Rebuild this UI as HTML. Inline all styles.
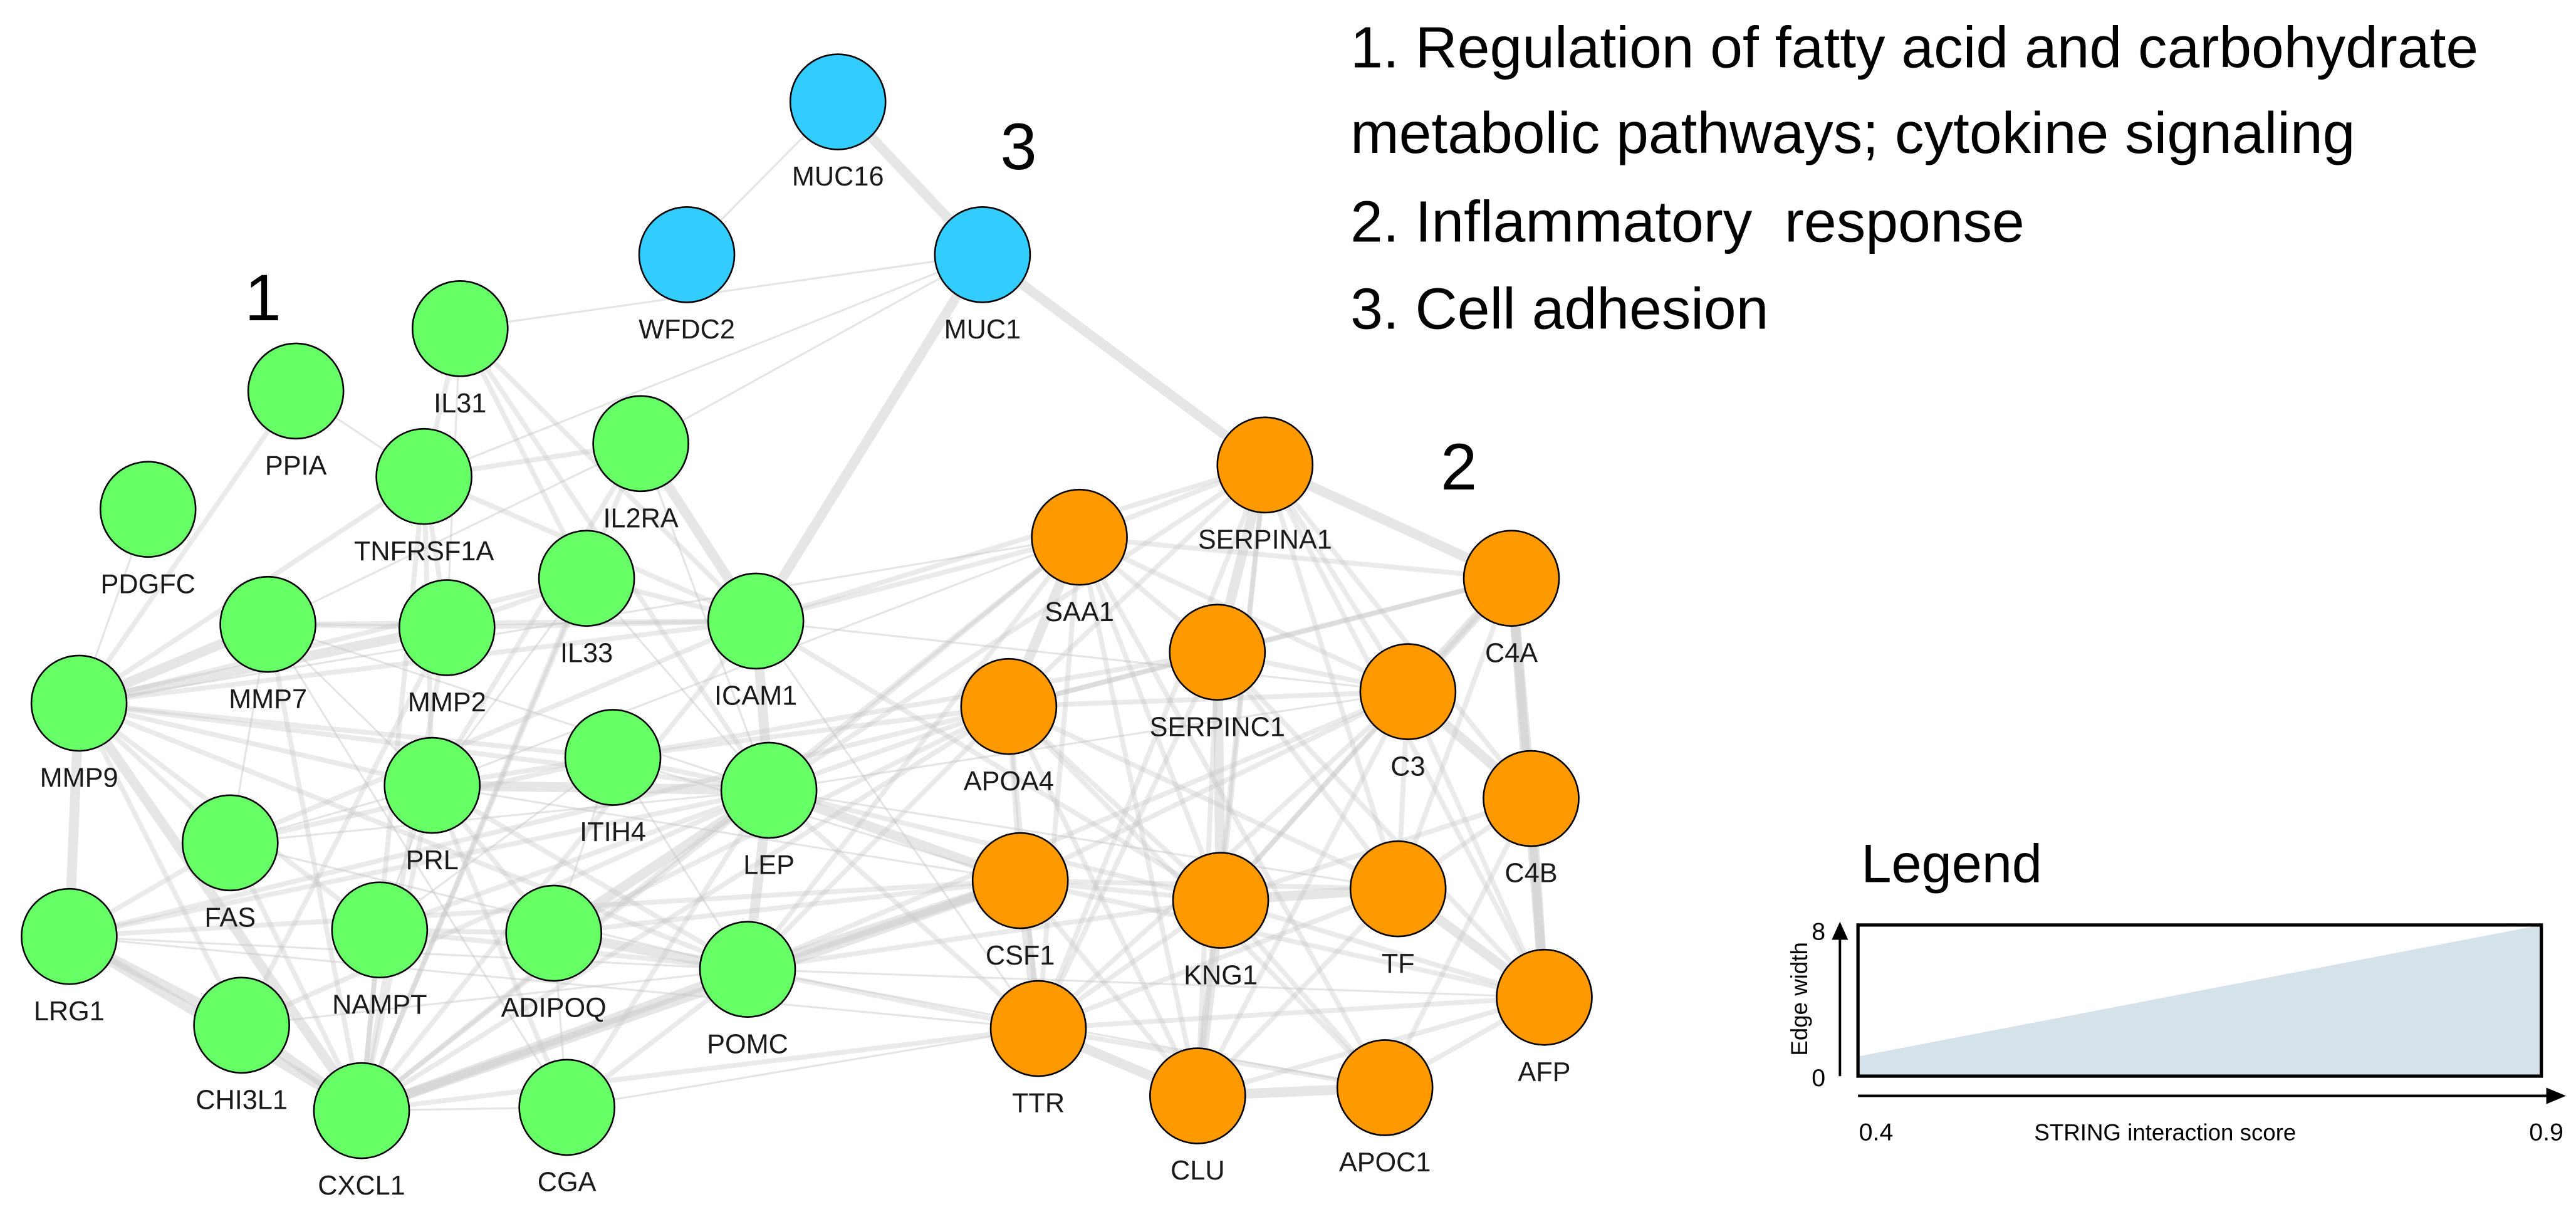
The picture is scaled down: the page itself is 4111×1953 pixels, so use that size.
<!DOCTYPE html>
<html><head><meta charset="utf-8"><style>
html,body{margin:0;padding:0;background:#fff;}
svg{display:block;}
text{font-family:"Liberation Sans",Arial,sans-serif;}
</style></head><body>
<svg id="s" width="4111" height="1953" viewBox="0 0 1568 745" xmlns="http://www.w3.org/2000/svg">
<g id="edges" fill="none" stroke-linecap="butt"></g>
<g id="nodes" stroke="#000" stroke-width="1"></g>
<g id="labels" font-size="16.5" fill="#1a1a1a" text-anchor="middle"></g>
<g font-size="40" fill="#000" text-anchor="middle">
<text x="160" y="195">1</text><text x="888" y="298">2</text><text x="620" y="103">3</text>
</g>
<g font-size="35.5" fill="#000">
<text x="822" y="41">1. Regulation of fatty acid and carbohydrate</text>
<text x="822" y="93">metabolic pathways; cytokine signaling</text>
<text x="822" y="147">2. Inflammatory&#160; response</text>
<text x="822" y="200">3. Cell adhesion</text>
</g>
<g>
<text x="1133" y="537" font-size="33">Legend</text>
<polygon points="1131,654 1131,643 1547,563 1547,654" fill="#d6e2ea"/>
<rect x="1131" y="563" width="416" height="92" fill="none" stroke="#000" stroke-width="2"/>
<line x1="1120" y1="655" x2="1120" y2="570" stroke="#000" stroke-width="1.5"/>
<polygon points="1120,561 1115,572 1125,572" fill="#000"/>
<line x1="1131" y1="667" x2="1552" y2="667" stroke="#000" stroke-width="1.5"/>
<polygon points="1562,667 1550,662 1550,672" fill="#000"/>
<text x="1107" y="572" font-size="15" text-anchor="middle">8</text>
<text x="1107" y="661" font-size="15" text-anchor="middle">0</text>
<text transform="translate(1100,608) rotate(-90)" font-size="14" text-anchor="middle">Edge width</text>
<text x="1142" y="694" font-size="15" text-anchor="middle">0.4</text>
<text x="1550" y="694" font-size="15" text-anchor="middle">0.9</text>
<text x="1318" y="694" font-size="14" text-anchor="middle">STRING interaction score</text>
</g>
</svg>
<script>
var N={MUC16:[510,62,'b'],WFDC2:[418,155,'b'],MUC1:[598,155,'b'],
IL31:[280,200],PPIA:[180,238],PDGFC:[90,310],TNFRSF1A:[258,290],IL2RA:[390,270],IL33:[357,352],MMP7:[163,380],MMP2:[272,382],ICAM1:[460,378],MMP9:[48,428],PRL:[263,478],ITIH4:[373,461],LEP:[468,481],FAS:[140,513],LRG1:[42,570],NAMPT:[231,566],ADIPOQ:[337,568],POMC:[455,590],CHI3L1:[147,624],CXCL1:[220,676],CGA:[345,674],
SERPINA1:[770,283,'o'],SAA1:[657,327,'o'],C4A:[920,352,'o'],SERPINC1:[741,397,'o'],C3:[857,421,'o'],APOA4:[614,430,'o'],C4B:[932,486,'o'],CSF1:[621,536,'o'],KNG1:[743,548,'o'],TF:[851,541,'o'],AFP:[940,607,'o'],TTR:[632,626,'o'],CLU:[729,667,'o'],APOC1:[843,662,'o']};
var thick="MUC16-MUC1 MMP9-LRG1 MMP9-CXCL1 LRG1-CXCL1 CHI3L1-CXCL1 CXCL1-POMC MUC1-SERPINA1 SERPINA1-C4A C3-C4A C3-C4B KNG1-CLU SERPINC1-KNG1 CSF1-TTR TTR-CLU C4A-AFP C4B-AFP TF-AFP KNG1-TF SERPINA1-SERPINC1 SAA1-APOA4 ICAM1-LEP LEP-POMC IL2RA-ICAM1 MMP9-MMP7 MMP9-MMP2 PRL-LEP LEP-CSF1 POMC-CSF1 CXCL1-CSF1 ADIPOQ-LEP ADIPOQ-POMC MUC1-ICAM1 LRG1-CHI3L1 C4A-C4B CLU-APOC1";
var med="MMP9-PPIA MMP9-TNFRSF1A MMP9-PRL MMP9-ICAM1 MMP9-LEP MMP9-FAS MMP9-NAMPT MMP9-ITIH4 MMP9-CHI3L1 MMP9-IL33 MMP9-POMC LRG1-FAS LRG1-APOA4 LRG1-LEP LRG1-CSF1 TNFRSF1A-IL31 TNFRSF1A-IL2RA TNFRSF1A-ICAM1 TNFRSF1A-MMP2 TNFRSF1A-PRL TNFRSF1A-CXCL1 IL31-IL33 IL31-ICAM1 IL31-LEP IL2RA-PRL IL2RA-CXCL1 IL33-ICAM1 IL33-MMP2 IL33-CXCL1 MMP7-MMP2 MMP7-CXCL1 MMP7-ICAM1 MMP2-ICAM1 MMP2-CXCL1 MMP2-CHI3L1 ICAM1-CXCL1 ICAM1-SAA1 ICAM1-SERPINA1 ICAM1-KNG1 PRL-ITIH4 PRL-CXCL1 PRL-POMC PRL-ADIPOQ PRL-CGA ITIH4-LEP ITIH4-SERPINC1 ITIH4-APOA4 LEP-SAA1 LEP-APOA4 LEP-SERPINA1 LEP-NAMPT LEP-KNG1 LEP-TTR FAS-CXCL1 FAS-ICAM1 FAS-ITIH4 NAMPT-ADIPOQ NAMPT-POMC NAMPT-CXCL1 ADIPOQ-CSF1 ADIPOQ-APOA4 POMC-APOA4 POMC-SAA1 POMC-TTR POMC-KNG1 POMC-CGA POMC-C3 CXCL1-APOA4 CXCL1-SAA1 CXCL1-TTR CXCL1-LEP CHI3L1-LEP CGA-LEP SAA1-SERPINA1 SAA1-C3 SAA1-KNG1 SAA1-TTR SAA1-CLU SAA1-C4A SAA1-SERPINC1 SERPINA1-C3 SERPINA1-KNG1 SERPINA1-TF SERPINA1-AFP SERPINA1-APOA4 SERPINA1-TTR SERPINA1-CLU SERPINA1-C4B C4A-SERPINC1 C4A-APOA4 C4A-KNG1 C4A-TF SERPINC1-C3 SERPINC1-APOA4 SERPINC1-TF SERPINC1-CLU SERPINC1-TTR SERPINC1-AFP C3-APOA4 C3-KNG1 C3-TF C3-CLU C3-CSF1 C3-TTR C3-AFP APOA4-CSF1 APOA4-TTR APOA4-KNG1 APOA4-CLU APOA4-APOC1 APOA4-TF C4B-TF C4B-KNG1 CSF1-KNG1 CSF1-TF CSF1-AFP CSF1-CLU KNG1-AFP KNG1-TTR KNG1-APOC1 TF-CLU TF-TTR TTR-AFP TTR-APOC1 CLU-AFP APOC1-AFP APOC1-C4B APOC1-SAA1";
var thin="MUC16-WFDC2 MUC1-IL2RA MUC1-TNFRSF1A MUC1-IL31 PPIA-TNFRSF1A PDGFC-MMP9 IL31-MMP2 IL2RA-MMP7 IL2RA-LEP IL33-LEP IL33-PRL MMP7-PRL MMP7-FAS MMP7-LEP FAS-PRL FAS-POMC FAS-LEP NAMPT-PRL NAMPT-ITIH4 ADIPOQ-ITIH4 ADIPOQ-CGA CGA-CXCL1 CGA-MMP7 ITIH4-POMC ITIH4-CSF1 PRL-SAA1 PRL-CSF1 ICAM1-TTR ICAM1-C3 LRG1-TTR LRG1-POMC MMP9-SAA1 CHI3L1-POMC LEP-C3 LEP-TF POMC-AFP POMC-APOC1 CGA-TTR";
var E=document.getElementById('edges'),ns="http://www.w3.org/2000/svg";
function add(list,w,c,o){
list.split(" ").forEach(function(p){var a=p.split("-"),A=N[a[0]],B=N[a[1]];if(!A||!B)return;var l=document.createElementNS(ns,'line');l.setAttribute('x1',A[0]);l.setAttribute('y1',A[1]);l.setAttribute('x2',B[0]);l.setAttribute('y2',B[1]);l.setAttribute('stroke',c);l.setAttribute('stroke-width',w);l.setAttribute('stroke-opacity',o);E.appendChild(l);});}
add(thin,1.2,"#bdbdbd",0.4);add(med,3,"#c4c4c4",0.35);add(thick,6,"#c8c8c8",0.45);
var G=document.getElementById('nodes'),L=document.getElementById('labels');
for(var k in N){var v=N[k];var c=document.createElementNS(ns,'circle');c.setAttribute('cx',v[0]);c.setAttribute('cy',v[1]);c.setAttribute('r',29);
c.setAttribute('fill',v[2]=='b'?'#33ccff':v[2]=='o'?'#ff9900':'#66ff66');G.appendChild(c);
var t=document.createElementNS(ns,'text');t.setAttribute('x',v[0]);t.setAttribute('y',v[1]+51);t.textContent=k;L.appendChild(t);}
</script>
</body></html>
